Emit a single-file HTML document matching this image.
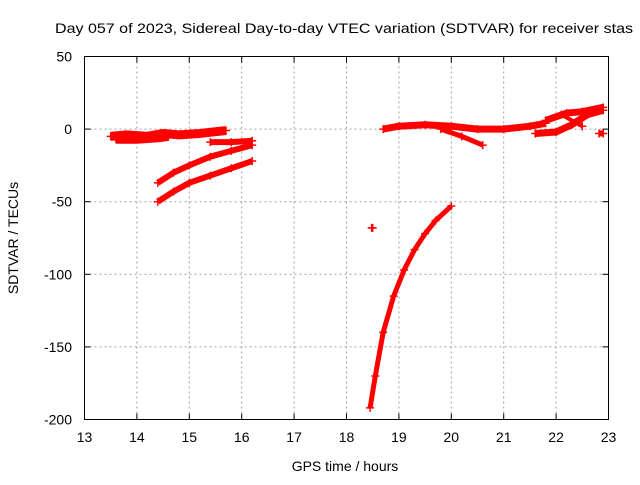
<!DOCTYPE html>
<html><head><meta charset="utf-8"><style>
body{margin:0;background:#fff}
svg text{font-family:"Liberation Sans",sans-serif;font-size:14px;fill:#000}
</style></head><body>
<svg width="640" height="480" xmlns="http://www.w3.org/2000/svg">
<rect width="640" height="480" fill="#fff"/>
<text x="55" y="33" textLength="578" lengthAdjust="spacingAndGlyphs">Day 057 of 2023, Sidereal Day-to-day VTEC variation (SDTVAR) for receiver stas</text>
<g id="grid"></g>
<g id="series"></g>
<rect x="84.5" y="56.5" width="524" height="363" fill="none" stroke="#000"/>
<g id="ticks"></g>
<text x="345" y="471" text-anchor="middle">GPS time / hours</text>
<text transform="translate(18,238) rotate(-90)" text-anchor="middle">SDTVAR / TECUs</text>
</svg>
<script>
const xTicks=[13,14,15,16,17,18,19,20,21,22,23];
const yTicks=[50,0,-50,-100,-150,-200];
const s1=[[13.5,-5],[13.8,-4],[14.2,-5],[14.5,-3],[14.8,-4],[15.2,-3],[15.7,-1]];
const s1b=[[13.6,-7],[14.0,-7],[14.4,-6],[14.6,-5]];
const s2=[[14.4,-37],[14.7,-30],[15.0,-25],[15.4,-19],[15.8,-15],[16.2,-11]];
const s3=[[14.4,-50],[14.7,-43],[15.0,-37],[15.4,-32],[15.8,-27],[16.2,-22]];
const s4=[[15.4,-9],[15.8,-9],[16.2,-8]];
const s5=[[18.48,-68],[18.5,-68]];
const s6=[[18.45,-192],[18.55,-170],[18.7,-140],[18.9,-115],[19.1,-97],[19.3,-83],[19.5,-72],[19.7,-63],[20.0,-53]];
const s7=[[18.7,0],[19.0,2],[19.5,3],[20.0,2],[20.5,0],[21.0,0],[21.5,2],[21.8,4]];
const s8=[[19.8,0],[20.2,-5],[20.6,-11]];
const s9=[[21.6,-3],[22.0,-2],[22.3,3],[22.6,10],[22.9,13]];
const s10=[[21.8,6],[22.2,11],[22.5,12],[22.9,15]];
const s11=[[22.1,10],[22.5,2]];
const s12=[[22.82,-3],[22.9,-3]];
const allSeries=[[s1,9],[s1b,9],[s2,6],[s3,6],[s4,6],[s5,4],[s6,5],[s7,7],[s8,5],[s9,7],[s10,7],[s11,4],[s12,6]];
const X0=84.5,X1=608.5,Y0=419.5,Y1=56.5;
const xs=v=>X0+(v-13)/(23-13)*(X1-X0);
const ys=v=>Y0-(v+200)/250*(Y0-Y1);
const NS='http://www.w3.org/2000/svg';
const grid=document.getElementById('grid'),ticks=document.getElementById('ticks'),ser=document.getElementById('series');
function mk(t,a,p){const e=document.createElementNS(NS,t);for(const k in a)e.setAttribute(k,a[k]);p.appendChild(e);return e;}
xTicks.forEach(v=>{const x=xs(v);
 if(v>13&&v<23){const g=mk('line',{x1:x,x2:x,y1:Y1,y2:Y0,stroke:'#a0a0a0','stroke-dasharray':'2,3'},grid);
 
 }
 const t=mk('text',{x:x,y:442,'text-anchor':'middle'},ticks);t.textContent=v;
 
 
 mk('line',{x1:x,x2:x,y1:Y0,y2:Y0-6,stroke:'#000'},ticks);mk('line',{x1:x,x2:x,y1:Y1,y2:Y1+6,stroke:'#000'},ticks);});
yTicks.forEach(v=>{const y=ys(v);
 if(v>-200&&v<50){const g=mk('line',{x1:X0,x2:X1,y1:y,y2:y,stroke:'#a0a0a0','stroke-dasharray':'2,3'},grid);
 
 }
 const t=mk('text',{x:72,y:y+5,'text-anchor':'end'},ticks);t.textContent=v;
 
 
 mk('line',{x1:X0,x2:X0+6,y1:y,y2:y,stroke:'#000'},ticks);mk('line',{x1:X1,x2:X1-6,y1:y,y2:y,stroke:'#000'},ticks);});
allSeries.forEach(([pts,w])=>{
 const p=mk('polyline',{points:pts.map(q=>xs(q[0])+','+ys(q[1])).join(' '),fill:'none',stroke:'#f00','stroke-width':w,'stroke-linejoin':'round'},ser);
 
 
 pts.forEach(q=>{const x=xs(q[0]),y=ys(q[1]);
  const m=mk('path',{d:`M${x-4},${y}h8M${x},${y-4}v8`,stroke:'#f00','stroke-width':1.5},ser);
  
  });
});
</script>
</body></html>
